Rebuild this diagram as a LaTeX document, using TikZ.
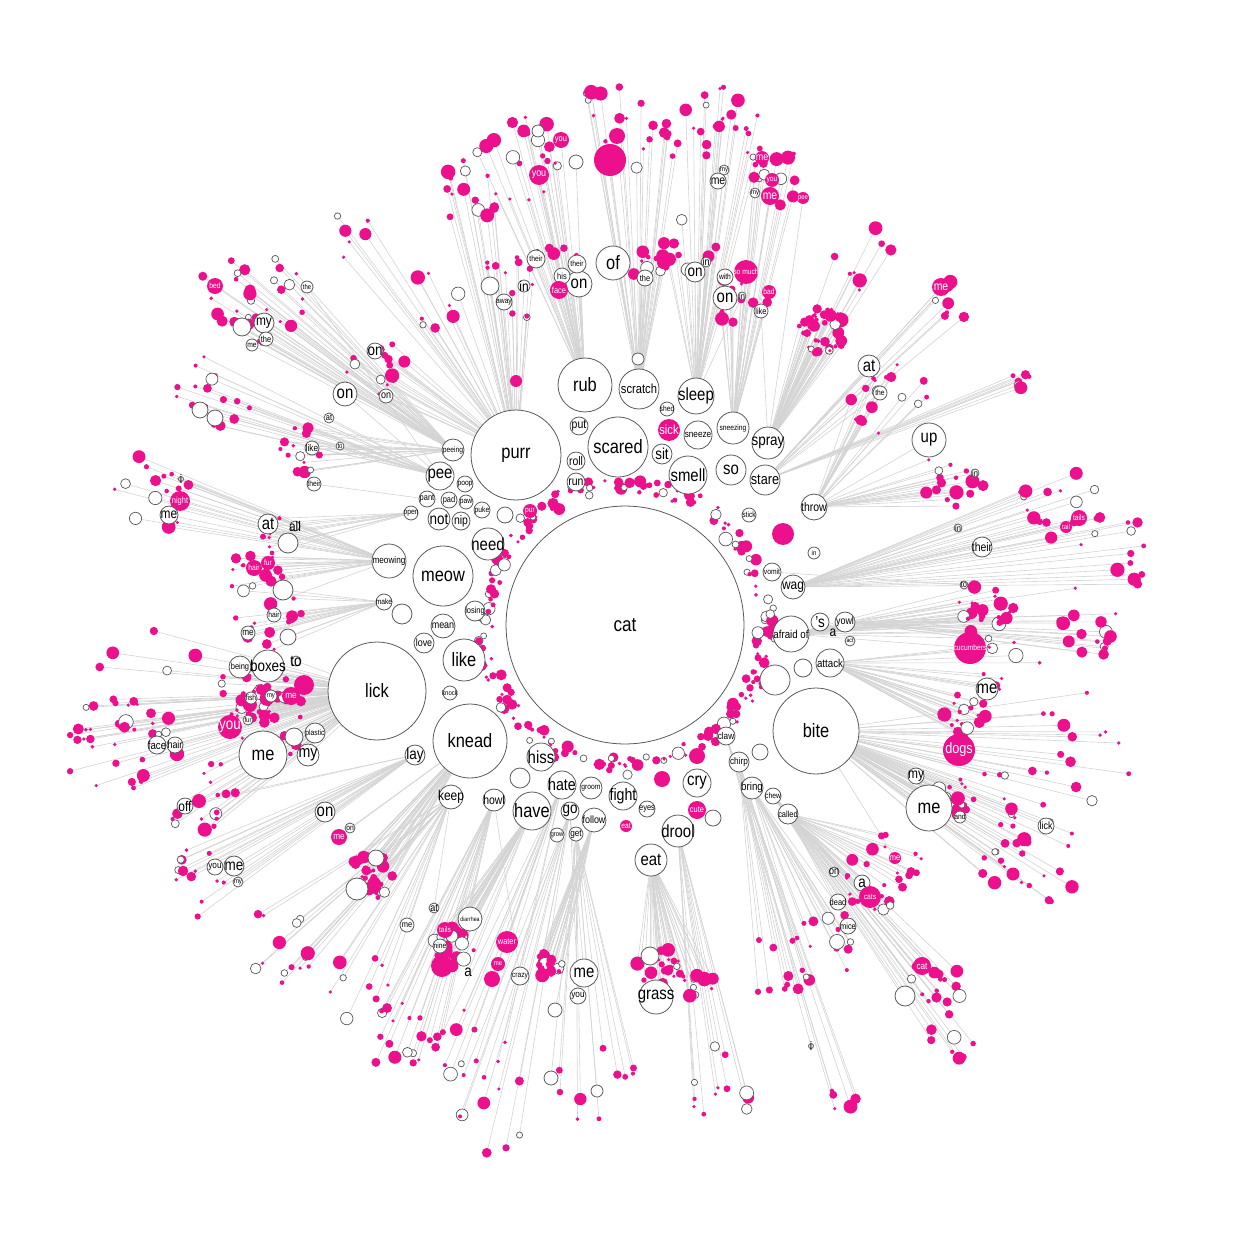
\documentclass[tikz,border=0pt]{standalone}
\usepackage{fontspec}
\setmainfont{Liberation Sans}[FakeStretch=0.85]
\usepackage{xcolor}
\usetikzlibrary{backgrounds}
\definecolor{catpink}{RGB}{236,16,140}
\definecolor{raygray}{RGB}{212,212,212}
% white bubble / pink bubble: name, position, radius (px), font size (pt), text
\newcommand{\wb}[5]{\node[wbub, minimum size=#3*0.04cm,
  label={[lbl, font=\fontsize{#4}{#4}\selectfont]center:#5}] (#1) at (#2) {};}
\newcommand{\pb}[5]{\node[pbub, minimum size=#3*0.04cm,
  label={[lbl, text=white, font=\fontsize{#4}{#4}\selectfont]center:#5}] (#1) at (#2) {};}
% outer clusters: x / y / spread / count / parent
\newcommand{\clusterlist}{
  520/160/45/22/rub, 470/190/35/14/purr, 610/120/40/12/scratch, 660/150/30/10/scratch,
  720/130/45/22/sleep, 780/175/30/12/sneezing, 650/268/18/14/scratch, 505/290/35/14/purr,
  560/260/25/8/rub, 745/300/30/12/sneezing, 823/330/24/40/spray, 955/300/22/8/stare,
  860/260/40/8/spray, 890/400/40/18/throw, 1020/378/10/8/stare, 955/480/35/16/throw,
  1060/510/45/18/wag, 1125/555/35/10/wag, 985/610/30/24/afraid, 1090/620/40/16/yowl,
  1010/665/30/10/attack, 965/715/22/22/attack, 1080/745/60/14/bite, 955/795/20/20/bite,
  1030/860/50/26/bite, 880/875/45/26/called, 830/940/35/14/bring, 935/985/30/14/chew,
  955/1035/25/8/chew, 780/965/35/12/chirp, 845/1095/18/6/claw, 720/1085/40/12/drool,
  660/975/28/26/eatw, 700/985/15/10/eatw, 550/965/14/26/follow, 600/1085/45/10/get,
  490/1110/45/10/go, 455/945/22/26/have, 470/1040/40/10/hate, 405/1040/40/20/howl,
  355/985/35/10/keep, 280/945/40/14/keep, 370/875/24/32/knead, 200/880/40/14/lay,
  200/790/45/18/lick, 110/745/50/30/lick, 255/690/35/40/lick, 270/725/40/14/lick,
  150/680/55/10/lick, 270/610/40/14/make, 265/575/35/14/meowing, 150/495/45/16/meowing,
  275/535/20/8/open, 220/395/45/16/pee, 300/450/25/14/peeing, 250/300/55/30/peeing,
  375/365/30/14/purr, 350/235/25/6/purr, 430/300/30/10/purr, 690/240/30/8/sleep,
  1010/790/40/8/bite}

\begin{document}
\begin{tikzpicture}[
  x=0.02cm, y=-0.02cm,
  wbub/.style = {circle, draw=black!65, line width=0.45pt, fill=white, inner sep=0pt, outer sep=0pt},
  pbub/.style = {circle, fill=catpink, draw=none, inner sep=0pt, outer sep=0pt},
  pdot/.style = {circle, fill=catpink, draw=none, inner sep=0pt, outer sep=0pt},
  wdot/.style = {circle, draw=black!65, line width=0.4pt, fill=white, inner sep=0pt, outer sep=0pt},
  lbl/.style  = {inner sep=0pt, text=black},
  ray/.style  = {draw=raygray, line width=0.35pt}
]
\useasboundingbox (0,0) rectangle (1250,1250);
\pgfmathsetseed{42}

% ring of small dots round the centre
\foreach \k in {1,...,230}{
  \pgfmathsetmacro\ang{360*rnd}
  \pgfmathsetmacro\rr{132+18*rnd}
  \pgfmathsetmacro\u{rnd}
  \pgfmathtruncatemacro\isw{rnd<0.2}
  \ifnum\isw=1
    \pgfmathsetmacro\sz{6+8*\u*\u}\tikzset{dotcol/.style={wdot}}
  \else
    \pgfmathsetmacro\sz{3.5+9*\u*\u}\tikzset{dotcol/.style={pdot}}
  \fi
  \node[dotcol, minimum size=\sz*0.02cm] (ring\k) at ({625+\rr*cos(\ang)},{625+\rr*sin(\ang)}) {};
}

% centre
\wb{cat}{625,625}{119}{11.5}{cat}

% first ring
\wb{purr}{516,455}{45}{11}{purr}
\wb{rub}{585,385}{27}{11}{rub}
\wb{scratch}{639,389}{20}{7.5}{scratch}
\wb{sleep}{696,396}{18}{10}{sleep}
\wb{scared}{618,447}{30}{11}{scared}
\pb{sick}{669,430}{11}{7.5}{sick}
\wb{sit}{662,454}{10}{9}{sit}
\wb{shed}{667,409}{7}{4.5}{shed}
\wb{sneeze}{698,435}{14}{5.5}{sneeze}
\wb{sneezing}{733,428}{16}{4.5}{sneezing}
\wb{spray}{768,443}{16}{9}{spray}
\wb{smell}{688,475}{19}{10}{smell}
\wb{so}{731,470}{15}{10}{so}
\wb{stare}{765,480}{15}{8.5}{stare}
\wb{throw}{814,507}{13}{7}{throw}
\wb{stick}{749,515}{7}{4.5}{stick}
\wb{put}{579,426}{9}{7}{put}
\wb{roll}{576,461}{9}{7}{roll}
\wb{run}{576,482}{9}{7}{run}
\wb{pee}{440,476}{14}{10}{pee}
\wb{peeing}{453,450}{11}{4.5}{peeing}
\wb{poop}{465,484}{8}{4.5}{poop}
\wb{pant}{427,499}{8}{5}{pant}
\wb{pad}{449,500}{8}{5}{pad}
\wb{paw}{466,502}{7}{4.5}{paw}
\wb{puke}{482,510}{8}{4.5}{puke}
\wb{open}{411,513}{7}{4.5}{open}
\wb{not}{439,519}{11}{9}{not}
\wb{nip}{461,521}{9}{7}{nip}
\wb{need}{488,544}{16}{10}{need}
\pb{pur}{530,511}{7}{4.5}{pur}
\wb{meowing}{389,561}{17}{5.5}{meowing}
\wb{meow}{443,576}{30}{11}{meow}
\wb{losing}{475,611}{10}{5}{losing}
\wb{make}{384,602}{8}{4.5}{make}
\wb{mean}{443,626}{12}{6}{mean}
\wb{love}{424,643}{10}{6}{love}
\wb{like}{464,660}{21}{11}{like}
\wb{lick}{377,691}{49}{11}{lick}
\wb{knock}{450,693}{7}{4}{knock}
\wb{lay}{415,755}{10}{9}{lay}
\wb{knead}{470,741}{37}{11}{knead}
\wb{hiss}{541,757}{14}{10}{hiss}
\wb{keep}{451,797}{12}{8}{keep}
\wb{howl}{494,800}{11}{7}{howl}
\wb{hate}{562,785}{14}{9.5}{hate}
\wb{groom}{591,788}{11}{4.5}{groom}
\wb{have}{532,811}{19}{11}{have}
\wb{go}{570,811}{9}{9}{go}
\wb{grow}{557,835}{7}{4}{grow}
\wb{get}{576,834}{7}{5.5}{get}
\wb{follow}{594,820}{12}{6}{follow}
\wb{fight}{623,796}{14}{9.5}{fight}
\wb{eyes}{647,809}{8}{5}{eyes}
\pb{eatp}{626,826}{6}{4.5}{eat}
\wb{eatw}{651,860}{16}{10}{eat}
\wb{drool}{678,831}{16}{10}{drool}
\pb{cute}{697,810}{9}{5}{cute}
\wb{cry}{697,783}{14}{10}{cry}
\wb{claw}{726,736}{9}{5.5}{claw}
\wb{chirp}{739,762}{10}{5.5}{chirp}
\wb{bring}{752,788}{11}{6.5}{bring}
\wb{chew}{773,796}{8}{4.5}{chew}
\wb{called}{788,814}{10}{5}{called}
\wb{bite}{816,731}{43}{11}{bite}
\wb{attack}{830,663}{14}{6.5}{attack}
\wb{afraid}{791,634}{18}{6.5}{afraid of}
\wb{s}{820,622}{9}{9}{'s}
\wb{yowl}{845,622}{10}{6}{yowl}
\wb{act}{850,641}{5}{3.5}{act}
\node[lbl, font=\fontsize{8}{8}\selectfont] (a0) at (833,633) {a};
\wb{wag}{793,587}{12}{8}{wag}
\wb{vomit}{772,572}{9}{4.5}{vomit}
\wb{in1}{814,553}{6}{4}{in}
\pb{bigp0}{783,534}{11}{5}{}
\pb{bigp5}{697,756}{8}{5}{}
\pb{bigp6}{662,779}{8}{5}{}
\pb{bigp7}{516,381}{6}{5}{}
\wb{w1}{638,359}{6}{5}{}
\wb{w2}{775,680}{15}{5}{}
\wb{w3}{803,668}{9}{5}{}
\wb{w4}{760,752}{8}{5}{}
\wb{w5}{713,818}{8}{5}{}
\wb{w6}{520,778}{10}{5}{}
\wb{w7}{505,515}{8}{5}{}
\wb{w8}{402,614}{10}{5}{}

% outer clusters
\foreach \cx/\cy/\s/\n/\p [count=\c] in \clusterlist {
  \foreach \k in {1,...,\n}{
    \pgfmathsetmacro\ang{360*rnd}
    \pgfmathsetmacro\rr{\s*sqrt(rnd)}
    \pgfmathsetmacro\u{rnd}
    \pgfmathtruncatemacro\isw{rnd<0.14}
    \ifnum\isw=1
      \pgfmathsetmacro\sz{6+9*\u*\u}\tikzset{dotcol/.style={wdot}}
    \else
      \pgfmathsetmacro\sz{3.5+11*\u*\u}\tikzset{dotcol/.style={pdot}}
    \fi
    \node[dotcol, minimum size=\sz*0.02cm] (c\c-\k) at ({\cx+\rr*cos(\ang)},{\cy+\rr*sin(\ang)}) {};
  }
}

% second ring, labelled
\wb{of}{613,263}{17}{11}{of}
\wb{on1}{579,284}{13}{10}{on}
\wb{their1}{577,264}{9}{4.5}{their}
\wb{his}{562,276}{8}{5}{his}
\wb{their2}{536,259}{9}{4.5}{their}
\wb{in2}{524,286}{6}{8}{in}
\wb{away}{504,302}{8}{4.5}{away}
\pb{face}{559,290}{9}{5}{face}
\wb{w20}{490,286}{9}{5}{}
\wb{on2}{695,272}{10}{9}{on}
\wb{in3}{706,262}{5}{6}{in}
\wb{with}{725,277}{8}{4.5}{with}
\pb{somuch}{746,272}{12}{4.5}{so much}
\wb{on3}{725,298}{12}{10}{on}
\wb{in4}{742,296}{4}{5}{in}
\pb{bad}{769,292}{7}{4.5}{bad}
\wb{like2}{761,311}{7}{5}{like}
\wb{the1}{645,278}{8}{5}{the}
\wb{me1}{718,181}{8}{7}{me}
\wb{my1}{724,170}{5}{4}{my}
\pb{mep1}{762,158}{7}{6}{me}
\pb{youp1}{772,180}{7}{4.5}{you}
\wb{my2}{755,193}{5}{4}{my}
\pb{mep2}{770,196}{9}{7}{me}
\pb{peep}{803,198}{6}{4}{pee}
\pb{youp2}{561,140}{8}{5}{you}
\pb{youp3}{539,175}{10}{6}{you}
\pb{bigp1}{610,160}{16}{5}{}
\pb{bigp2}{617,136}{8}{5}{}
\wb{w21}{538,131}{6}{5}{}
\wb{w22}{576,162}{7}{5}{}
\wb{at1}{869,366}{11}{10}{at}
\wb{the2}{880,393}{7}{4.5}{the}
\wb{up}{929,440}{17}{10}{up}
\pb{mep3}{941,287}{9}{7}{me}
\wb{my3}{264,323}{10}{8}{my}
\wb{the3}{266,339}{7}{5}{the}
\wb{me2}{252,345}{6}{4.5}{me}
\wb{w12}{242,327}{9}{5}{}
\pb{bedp}{215,286}{8}{4.5}{bed}
\wb{the4}{307,287}{6}{4}{the}
\wb{on4}{375,351}{8}{9}{on}
\wb{on5}{345,394}{12}{10}{on}
\wb{on6}{386,396}{7}{6}{on}
\wb{at2}{329,418}{5}{5}{at}
\wb{like3}{312,448}{7}{5.5}{like}
\wb{to1}{340,446}{4}{4}{to}
\wb{their3}{314,484}{7}{4.5}{their}
\wb{w13}{200,410}{8}{5}{}
\wb{w14}{215,418}{8}{5}{}
\wb{iota1}{181,479}{2.5}{7}{i}
\pb{nightp}{180,501}{10}{5}{night}
\wb{me3}{169,515}{9}{8}{me}
\wb{at3}{268,524}{10}{10}{at}
\wb{all}{295,526}{5}{8}{all}
\wb{wat}{288,543}{10}{5}{}
\pb{hairp}{254,568}{8}{4.5}{hair}
\pb{furp}{268,563}{7}{4.5}{fur}
\wb{w11}{283,590}{10}{5}{}
\wb{hair2}{274,615}{7}{4.5}{hair}
\wb{me4}{248,633}{7}{5.5}{me}
\wb{w10}{288,637}{8}{5}{}
\wb{being}{240,667}{11}{5}{being}
\wb{boxes}{268,666}{16}{9}{boxes}
\wb{to2}{296,661}{5}{9}{to}
\wb{fish}{251,698}{6}{4.5}{fish}
\wb{my4}{271,696}{6}{4}{my}
\pb{mep4}{291,696}{9}{5.5}{me}
\pb{bigp8}{304,685}{10}{5}{}
\pb{youp4}{230,727}{12}{9}{you}
\wb{fur2}{248,720}{5}{4}{fur}
\wb{plastic}{315,733}{10}{4.5}{plastic}
\wb{w15}{294,737}{9}{5}{}
\wb{me5}{263,755}{24}{11}{me}
\wb{my5}{308,755}{11}{9.5}{my}
\wb{face2}{157,745}{9}{6.5}{face}
\wb{hair3}{175,745}{8}{6}{hair}
\wb{off}{185,806}{8}{8}{off}
\pb{bigp9}{199,801}{7}{5}{}
\wb{on7}{325,812}{10}{10}{on}
\wb{on8}{350,828}{5}{4.5}{on}
\pb{mep5}{339,837}{8}{5.5}{me}
\wb{you2}{215,867}{8}{5.5}{you}
\wb{me6}{234,866}{10}{9}{me}
\wb{my6}{238,882}{5}{4}{my}
\wb{w16}{357,889}{11}{5}{}
\wb{w17}{376,858}{8}{5}{}
\wb{at4}{434,908}{5}{6}{at}
\wb{me7}{407,925}{7}{5}{me}
\wb{diarrhea}{470,919}{12}{3.5}{diarrhea}
\pb{tailsp}{445,930}{8}{4.5}{tails}
\wb{nine}{440,946}{7}{4.5}{nine}
\pb{bigp3}{442,966}{11}{5}{}
\node[lbl, font=\fontsize{9}{9}\selectfont] (a1) at (468,972) {a};
\pb{bigp4}{492,979}{8}{5}{}
\pb{waterp}{507,942}{11}{5}{water}
\pb{mep6}{498,964}{7}{4}{me}
\wb{crazy}{520,976}{9}{4.5}{crazy}
\wb{me8}{584,973}{14}{10}{me}
\wb{you3}{578,996}{8}{5.5}{you}
\wb{w18}{555,1010}{7}{5}{}
\wb{w19}{551,1078}{7}{5}{}
\wb{w23}{597,1091}{6}{5}{}
\wb{w24}{650,956}{9}{5}{}
\wb{grass}{656,997}{17}{10}{grass}
\wb{on9}{834,872}{5}{6}{on}
\wb{a2}{862,883}{8}{9}{a}
\pb{catsp}{870,897}{11}{4.5}{cats}
\wb{dead}{838,902}{8}{5}{dead}
\wb{mice}{848,926}{8}{5}{mice}
\pb{mep7}{895,858}{6}{5}{me}
\pb{catp}{922,966}{9}{5.5}{cat}
\wb{w25}{905,996}{10}{5}{}
\wb{iota2}{811,1046}{2.5}{7}{i}
\wb{my7}{916,776}{8}{8}{my}
\wb{me9}{929,808}{23}{11}{me}
\wb{and}{960,817}{6}{4.5}{and}
\wb{lick2}{1046,826}{8}{6}{lick}
\pb{dogsp}{959,750}{16}{8.5}{dogs}
\wb{me10}{987,689}{11}{10}{me}
\pb{cucumbersp}{970,648}{16}{4.5}{cucumbers}
\wb{their4}{982,547}{10}{7}{their}
\wb{in5}{958,528}{4}{5}{in}
\wb{to3}{964,585}{4}{5}{to}
\wb{in6}{975,473}{4}{5}{in}
\pb{tailsp2}{1079,518}{8}{4.5}{tails}
\pb{tailp}{1066,527}{6}{4}{tail}

% rays, behind everything
\begin{pgfonlayer}{background}
\foreach \cx/\cy/\s/\n/\p [count=\c] in \clusterlist {
  \foreach \k in {1,...,\n}{
    \draw[ray] (\p) -- (c\c-\k);
  }
}
\foreach \a/\b in {scratch/of, rub/on1, rub/their1, rub/his, rub/their2, purr/in2, purr/away,
  rub/face, purr/w20, sleep/on2, sleep/in3, sleep/with, sneezing/somuch, sleep/on3, sleep/in4,
  sneezing/bad, spray/like2, scratch/the1, sleep/me1, sleep/my1, sneezing/mep1, sneezing/youp1,
  sneezing/my2, sneezing/mep2, spray/peep, rub/youp2, rub/youp3, scratch/bigp1, scratch/bigp2,
  rub/w21, rub/w22, stare/at1, stare/the2, throw/up, stare/mep3, peeing/my3, peeing/the3,
  peeing/me2, peeing/w12, peeing/bedp, pee/the4, purr/on4, pee/on5, purr/on6, pee/at2,
  peeing/like3, peeing/to1, pant/their3, pee/w13, pee/w14, meowing/iota1, meowing/nightp,
  meowing/me3, open/at3, open/all, open/wat, meowing/hairp, meowing/furp, make/w11, make/hair2,
  make/me4, make/w10, lick/being, lick/boxes, lick/to2, lick/fish, lick/my4, lick/mep4, lick/bigp8,
  lick/youp4, lick/fur2, lick/plastic, lick/w15, lick/me5, lick/my5, lick/face2, lick/hair3,
  lay/off, lay/bigp9, lay/on7, knead/on8, knead/mep5, lay/you2, lay/me6, lay/my6, knead/w16,
  knead/w17, keep/at4, keep/me7, have/diarrhea, have/tailsp, have/nine, have/bigp3, have/a1,
  hate/bigp4, hate/waterp, hate/mep6, howl/crazy, go/me8, go/you3, follow/w18, get/w19, get/w23,
  eatw/w24, eatw/grass, called/on9, called/a2, called/catsp, called/dead, called/mice, bite/mep7,
  chew/catp, chew/w25, claw/iota2, bite/my7, bite/me9, bite/and, bite/lick2, bite/dogsp,
  attack/me10, afraid/cucumbersp, wag/their4, wag/in5, vomit/to3, throw/in6, wag/tailsp2,
  wag/tailp, scratch/w1}
  \draw[ray] (\a) -- (\b);
\end{pgfonlayer}
\end{tikzpicture}
\end{document}
